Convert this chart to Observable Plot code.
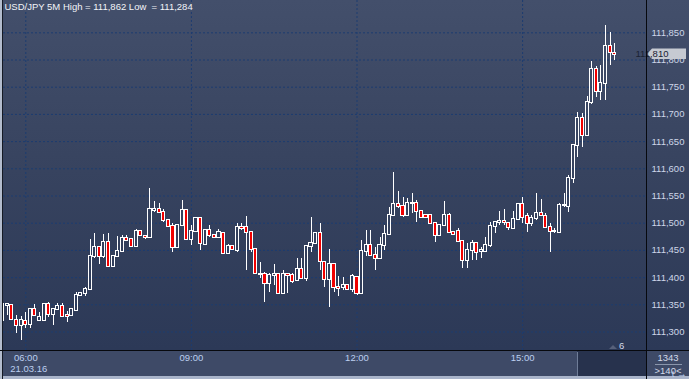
<!DOCTYPE html>
<html><head><meta charset="utf-8">
<script src="https://cdn.jsdelivr.net/npm/d3@7"></script>
<script src="https://cdn.jsdelivr.net/npm/@observablehq/plot@0.6"></script>
<style>
html,body{margin:0;padding:0;background:#3e4a66;}
#wrap{position:relative;width:689px;height:379px;overflow:hidden;
 background:linear-gradient(to bottom,#434f6b 0px,#37435f 170px,#2c3957 350px,#3e4a67 350px,#3e4a67 376px,#a9b4ca 376px);
 font-family:"Liberation Sans",Arial,sans-serif;}
#wrap svg{position:absolute;left:0;top:0;}
.ov{position:absolute;}
.t{position:absolute;font-size:9.5px;line-height:10px;color:#d3dbea;white-space:nowrap;}
</style></head><body><div id="wrap"></div>
<script>
// ---- data ----
const startTime = "2016-03-21T05:35:00Z";
const barMinutes = 5;
const opens = [111.321,111.349,111.349,111.322,111.312,111.320,111.313,111.341,111.321,111.321,111.350,111.332,111.341,111.347,111.330,111.330,111.340,111.368,111.370,111.378,111.438,111.456,111.438,111.465,111.420,111.439,111.448,111.472,111.470,111.457,111.485,111.475,111.474,111.524,111.526,111.520,111.505,111.494,111.456,111.496,111.523,111.470,111.485,111.508,111.460,111.487,111.477,111.473,111.481,111.445,111.457,111.450,111.492,111.493,111.483,111.451,111.406,111.405,111.389,111.404,111.406,111.370,111.405,111.404,111.394,111.414,111.398,111.457,111.462,111.481,111.428,111.397,111.424,111.381,111.381,111.385,111.379,111.401,111.371,111.448,111.459,111.441,111.436,111.459,111.479,111.515,111.534,111.531,111.515,111.536,111.537,111.522,111.514,111.515,111.499,111.477,111.495,111.514,111.483,111.484,111.467,111.431,111.450,111.462,111.448,111.448,111.459,111.494,111.501,111.504,111.500,111.491,111.506,111.534,111.512,111.499,111.508,111.517,111.512,111.492,111.485,111.483,111.532,111.531,111.582,111.643,111.692,111.661,111.721,111.782,111.743,111.756,111.825,111.812];
const highs = [111.352,111.351,111.350,111.330,111.329,111.335,111.343,111.350,111.335,111.352,111.354,111.344,111.352,111.352,111.338,111.342,111.373,111.373,111.382,111.470,111.481,111.457,111.479,111.481,111.440,111.476,111.477,111.477,111.471,111.488,111.486,111.477,111.564,111.539,111.537,111.526,111.506,111.499,111.497,111.542,111.524,111.496,111.511,111.509,111.488,111.496,111.478,111.488,111.482,111.461,111.459,111.499,111.500,111.512,111.484,111.452,111.427,111.410,111.408,111.425,111.407,111.413,111.408,111.407,111.435,111.435,111.458,111.510,111.482,111.500,111.429,111.452,111.425,111.402,111.401,111.386,111.406,111.402,111.468,111.487,111.487,111.456,111.474,111.496,111.528,111.593,111.558,111.548,111.545,111.555,111.542,111.523,111.515,111.516,111.500,111.496,111.540,111.517,111.484,111.490,111.468,111.462,111.468,111.465,111.456,111.473,111.502,111.503,111.522,111.525,111.502,111.522,111.537,111.547,111.517,111.514,111.554,111.543,111.518,111.500,111.490,111.536,111.555,111.588,111.645,111.704,111.702,111.733,111.798,111.788,111.790,111.863,111.851,111.830];
const lows = [111.319,111.330,111.322,111.297,111.284,111.306,111.307,111.330,111.320,111.320,111.327,111.312,111.340,111.327,111.318,111.329,111.338,111.367,111.366,111.376,111.436,111.425,111.436,111.418,111.419,111.438,111.447,111.467,111.456,111.456,111.476,111.470,111.473,111.520,111.517,111.502,111.493,111.447,111.455,111.495,111.469,111.459,111.484,111.450,111.459,111.474,111.472,111.472,111.443,111.442,111.450,111.447,111.487,111.413,111.447,111.406,111.398,111.355,111.373,111.386,111.369,111.369,111.371,111.389,111.393,111.397,111.392,111.447,111.461,111.413,111.382,111.345,111.373,111.365,111.376,111.378,111.373,111.367,111.370,111.439,111.438,111.413,111.435,111.450,111.477,111.514,111.527,111.511,111.512,111.517,111.502,111.510,111.509,111.498,111.465,111.476,111.494,111.481,111.478,111.465,111.416,111.416,111.431,111.431,111.435,111.447,111.456,111.481,111.496,111.496,111.487,111.488,111.505,111.499,111.483,111.494,111.505,111.513,111.490,111.447,111.481,111.481,111.529,111.520,111.573,111.620,111.640,111.659,111.719,111.732,111.726,111.726,111.790,111.799];
const closes = [111.350,111.350,111.323,111.312,111.321,111.313,111.341,111.330,111.327,111.351,111.332,111.341,111.347,111.329,111.329,111.341,111.368,111.370,111.378,111.438,111.456,111.438,111.465,111.420,111.439,111.448,111.472,111.468,111.457,111.485,111.477,111.474,111.526,111.526,111.520,111.505,111.494,111.456,111.496,111.523,111.470,111.485,111.509,111.462,111.487,111.477,111.473,111.482,111.445,111.458,111.451,111.492,111.491,111.483,111.452,111.407,111.405,111.389,111.404,111.406,111.370,111.405,111.403,111.392,111.414,111.398,111.457,111.462,111.481,111.430,111.397,111.424,111.381,111.380,111.385,111.379,111.402,111.370,111.448,111.459,111.441,111.436,111.459,111.479,111.515,111.534,111.531,111.515,111.536,111.537,111.522,111.511,111.511,111.499,111.477,111.495,111.514,111.483,111.479,111.467,111.431,111.450,111.462,111.447,111.449,111.459,111.494,111.502,111.504,111.501,111.492,111.506,111.534,111.511,111.499,111.508,111.517,111.514,111.492,111.485,111.484,111.533,111.533,111.582,111.643,111.692,111.661,111.721,111.782,111.743,111.756,111.825,111.813,111.810];
const yTicks = [111.30,111.35,111.40,111.45,111.50,111.55,111.60,111.65,111.70,111.75,111.80,111.85];
const xTickTimes = ["06:00","09:00","12:00","15:00"];
const dateLabel = "21.03.16";
const titleText = "USD/JPY 5M High = 111,862 Low  = 111,284";
const lastPrice = 111.810;
const counterText = "1343";
const barsText = ">140<";
const scrollText = "6";

// ---- build ----
const t0 = Date.parse(startTime);
const bars = opens.map((o, i) => ({
  t: new Date(t0 + i * barMinutes * 60000), o, h: highs[i], l: lows[i], c: closes[i]
}));
const xTicks = xTickTimes.map(s => new Date("2016-03-21T" + s + ":00Z"));
const fmtPrice = d => d.toFixed(3).replace(".", ",");
const hw = 98 * 1000;

const chart = Plot.plot({
  width: 689, height: 379,
  marginLeft: 3, marginRight: 43, marginTop: 0, marginBottom: 29,
  style: {background: "transparent", fontFamily: "'Liberation Sans', Arial, sans-serif", fontSize: "9.5px", overflow: "visible"},
  x: {type: "utc", domain: [new Date("2016-03-21T05:35:46Z"), new Date("2016-03-21T17:14:40Z")]},
  y: {domain: [111.266, 111.9094]},
  marks: [
    Plot.gridY(yTicks, {stroke: "#1c3c70", strokeOpacity: 1, strokeDasharray: "2,2"}),
    Plot.gridX(xTicks, {stroke: "#1c3c70", strokeOpacity: 1, strokeDasharray: "2,2"}),
    Plot.ruleX(bars, {x: "t", y1: "h", y2: d => Math.max(d.o, d.c), stroke: "#ffffff", shapeRendering: "crispEdges", clip: true}),
    Plot.ruleX(bars, {x: "t", y1: d => Math.min(d.o, d.c), y2: "l", stroke: "#ffffff", shapeRendering: "crispEdges", clip: true}),
    Plot.rect(bars, {
      x1: d => new Date(+d.t - hw), x2: d => new Date(+d.t + hw),
      y1: "o", y2: "c",
      fill: d => d.c < d.o ? "#f00000" : "none",
      stroke: "#ffffff", strokeWidth: 1,
      insetTop: -0.5, insetBottom: -0.5,
      shapeRendering: "crispEdges", clip: true
    }),
    Plot.axisY(yTicks, {anchor: "right", tickSize: 0, tickPadding: 5, tickFormat: fmtPrice, fill: "#cdd6e8", fontSize: "9.5px"}),
    Plot.axisX(xTicks, {anchor: "bottom", tickSize: 0, tickPadding: 4, tickFormat: d3.utcFormat("%H:%M"), fill: "#bccff0", fontSize: "9.5px"}),
    Plot.text([dateLabel], {x: () => xTicks[0], text: d => d, frameAnchor: "bottom", lineAnchor: "top", dy: 15, dx: 3, fill: "#bccff0", fontSize: "9.5px"}),
    Plot.text([titleText], {text: d => d, frameAnchor: "top-left", lineAnchor: "top", textAnchor: "start", dx: 1, dy: 3, fill: "#f2f4f8", fontSize: "9.5px"})
  ]
});

const wrap = document.getElementById("wrap");
wrap.appendChild(chart);

// current price marker using the chart's y scale
const yPx = chart.scale("y").apply(lastPrice);
const svg = d3.select(chart);
const g = svg.append("g");
g.append("path")
  .attr("d", `M647,${yPx} L652,${yPx - 5.5} L686,${yPx - 5.5} L686,${yPx + 5} L652,${yPx + 5} Z`)
  .attr("fill", "#c6cad2");
g.append("text").attr("x", 652).attr("y", yPx).attr("dy", "0.35em")
  .attr("fill", "#1a2232").attr("font-size", "9.5px")
  .attr("font-family", "'Liberation Sans', Arial, sans-serif").text(fmtPrice(lastPrice));

// chrome overlays
function ov(css) { const d = document.createElement("div"); d.className = "ov"; d.style.cssText = css; wrap.appendChild(d); return d; }
function tx(text, css) { const d = document.createElement("div"); d.className = "t"; d.textContent = text; d.style.cssText = css; wrap.appendChild(d); return d; }
ov("left:0;top:0;width:2px;height:379px;background:#b3bccd;");
ov("left:2px;top:0;width:1px;height:379px;background:#151a24;");
ov("left:577px;top:351px;width:69px;height:25px;background:#27324d;");
ov("left:577px;top:352px;width:1px;height:24px;background:#6f7d98;");
ov("left:0;top:350px;width:689px;height:1px;background:#07090e;");
ov("left:646px;top:0;width:1px;height:379px;background:#07090e;");
ov("left:655px;top:364px;width:27px;height:1px;background:#8a96ac;");
tx(counterText, "left:647px;width:42px;text-align:center;top:353px;");
tx(barsText, "left:647px;width:42px;text-align:center;top:366px;");
tx(scrollText, "left:619px;top:341px;");
ov("left:609px;top:345px;width:0;height:0;border-left:4px solid transparent;border-right:4px solid transparent;border-bottom:4px solid #56607a;");
</script>
</body></html>
